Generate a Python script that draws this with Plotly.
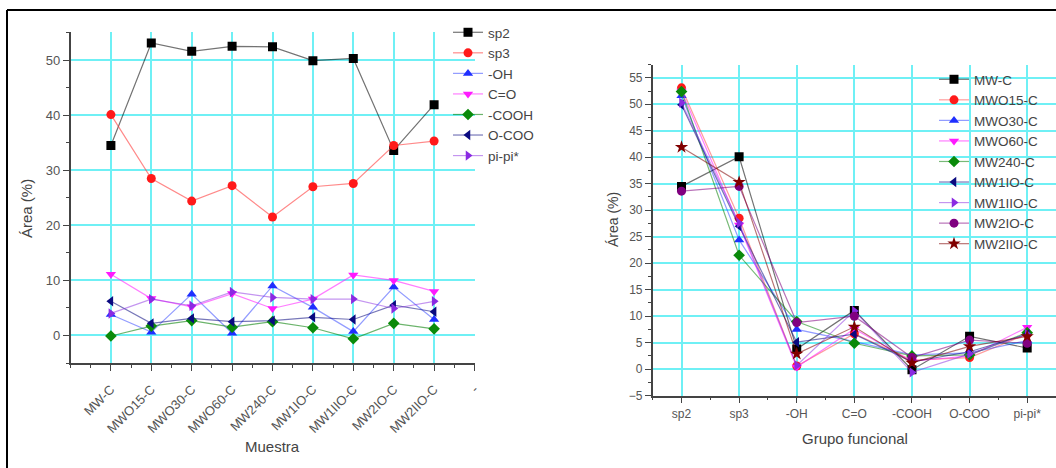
import plotly.graph_objects as go

W, H = 1056, 468

# ---------------- data ----------------
samples = ["MW-C", "MWO15-C", "MWO30-C", "MWO60-C", "MW240-C",
           "MW1IO-C", "MW1IIO-C", "MW2IO-C", "MW2IIO-C"]
groups = ["sp2", "sp3", "-OH", "C=O", "-COOH", "O-COO", "pi-pi*"]
left_tick_labels = samples + ["-"]

sp2 = [34.5, 53.1, 51.6, 52.5, 52.4, 49.9, 50.3, 33.6, 41.9]
sp3 = [40.1, 28.5, 24.4, 27.2, 21.5, 27.0, 27.6, 34.5, 35.3]
oh = [3.8, 0.6, 7.5, 0.4, 9.0, 5.1, 0.7, 8.8, 2.9]
co = [11.1, 6.7, 5.2, 7.6, 4.9, 6.6, 11.0, 10.0, 8.0]
cooh = [-0.1, 1.7, 2.7, 1.5, 2.5, 1.4, -0.6, 2.2, 1.2]
ocoo = [6.2, 2.2, 3.1, 2.5, 2.7, 3.3, 2.9, 5.5, 4.3]
pipi = [4.0, 6.6, 5.4, 7.9, 6.9, 6.6, 6.6, 4.9, 6.2]

group_values = [sp2, sp3, oh, co, cooh, ocoo, pipi]

# ---------------- styles ----------------
left_styles = [
    ("black", "rgba(0,0,0,0.55)", "square"),
    ("#ff1a1a", "rgba(255,60,60,0.6)", "circle"),
    ("#1f2fff", "rgba(40,60,255,0.5)", "triangle-up"),
    ("#ff1aff", "rgba(255,40,255,0.6)", "triangle-down"),
    ("#0a8a0a", "rgba(10,130,10,0.6)", "diamond"),
    ("#0a0a80", "rgba(10,10,128,0.55)", "triangle-left"),
    ("#8a2be2", "rgba(138,43,226,0.5)", "triangle-right"),
]
right_styles = [
    ("black", "rgba(0,0,0,0.55)", "square"),
    ("#ff1a1a", "rgba(255,60,60,0.5)", "circle"),
    ("#1f2fff", "rgba(40,60,255,0.5)", "triangle-up"),
    ("#ff1aff", "rgba(255,40,255,0.6)", "triangle-down"),
    ("#0a8a0a", "rgba(10,130,10,0.55)", "diamond"),
    ("#0a0a80", "rgba(10,10,128,0.55)", "triangle-left"),
    ("#8a2be2", "rgba(138,43,226,0.5)", "triangle-right"),
    ("#800080", "rgba(128,0,128,0.55)", "circle"),
    ("#800000", "rgba(128,0,0,0.55)", "star"),
]

fig = go.Figure()

x_left = list(range(1, len(samples) + 1))
for name, vals, (mc, lc, sym) in zip(groups, group_values, left_styles):
    fig.add_trace(go.Scatter(
        x=x_left, y=vals, name=name, mode="lines+markers",
        line=dict(color=lc, width=1.2),
        marker=dict(color=mc, symbol=sym, size=9),
        xaxis="x", yaxis="y", legend="legend",
    ))

x_right = list(range(len(groups)))
for i, (name, (mc, lc, sym)) in enumerate(zip(samples, right_styles)):
    vals = [g[i] for g in group_values]
    fig.add_trace(go.Scatter(
        x=x_right, y=vals, name=name, mode="lines+markers",
        line=dict(color=lc, width=1.2),
        marker=dict(color=mc, symbol=sym, size=9 if sym != "star" else 10),
        xaxis="x2", yaxis="y2", legend="legend2",
    ))

GRID = "#6ff0f5"
AX = "#444444"
TICKC = "#555555"
FONT = "Liberation Sans, Arial, sans-serif"

def px_x(p):
    return p / W

def px_y(p):
    return 1 - p / H

common_axis = dict(
    showline=True, linecolor=AX, linewidth=1.5,
    ticks="outside", tickcolor=AX, tickwidth=1.2,
    showgrid=True, gridcolor=GRID, gridwidth=1.5,
    zeroline=False, automargin=False,
)

def label(text, x, y, size, angle=0):
    return dict(text=text, x=px_x(x), y=px_y(y), xref="paper", yref="paper",
                xanchor="center", yanchor="middle", showarrow=False,
                textangle=angle, font=dict(size=size, color="#444"))

fig.update_layout(
    width=W, height=H,
    margin=dict(l=0, r=0, t=0, b=0),
    paper_bgcolor="white", plot_bgcolor="white",
    font=dict(family=FONT, color=TICKC),
    xaxis=dict(
        domain=[px_x(70.5), px_x(474.5)], range=[0, 10],
        tickmode="array", tickvals=list(range(1, 11)), ticktext=left_tick_labels,
        tickangle=-45, ticklen=6, ticklabelstandoff=6,
        tickfont=dict(size=13, color=TICKC),
        minor=dict(tickmode="linear", tick0=0, dtick=0.5, ticklen=3,
                   ticks="outside", tickcolor=AX, showgrid=False),
        anchor="y", **common_axis,
    ),
    yaxis=dict(
        domain=[px_y(363), px_y(32)], range=[-5, 55.1],
        tickmode="linear", tick0=0, dtick=10, ticklen=6,
        tickfont=dict(size=13, color=TICKC),
        minor=dict(tickmode="linear", tick0=0, dtick=5, ticklen=3,
                   ticks="outside", tickcolor=AX, showgrid=False),
        anchor="x", **common_axis,
    ),
    xaxis2=dict(
        domain=[px_x(652.7), 1.0], range=[-0.5, 6.5],
        tickmode="array", tickvals=x_right, ticktext=groups,
        tickangle=0, ticklen=6, tickfont=dict(size=12, color=TICKC),
        minor=dict(tickmode="linear", tick0=0, dtick=0.5, ticklen=3,
                   ticks="outside", tickcolor=AX, showgrid=False),
        anchor="y2", **common_axis,
    ),
    yaxis2=dict(
        domain=[px_y(395.7), px_y(64.5)], range=[-5, 57.5],
        tickmode="linear", tick0=0, dtick=5, ticklen=6,
        tickfont=dict(size=12, color=TICKC),
        minor=dict(tickmode="linear", tick0=0, dtick=2.5, ticklen=3,
                   ticks="outside", tickcolor=AX, showgrid=False),
        anchor="x2", **common_axis,
    ),
    legend=dict(
        x=px_x(448), y=px_y(17), xanchor="left", yanchor="top",
        bgcolor="rgba(0,0,0,0)", font=dict(size=13.5, color="#444"),
        tracegroupgap=0, itemwidth=30,
    ),
    legend2=dict(
        x=px_x(934), y=px_y(64), xanchor="left", yanchor="top",
        bgcolor="rgba(0,0,0,0)", font=dict(size=13.5, color="#444"),
        tracegroupgap=0, itemwidth=30,
    ),
    showlegend=True,
    annotations=[
        label("Área (%)", 27, 209, 15, -90),
        label("Muestra", 272, 446, 15),
        label("Área (%)", 613, 220, 14, -90),
        label("Grupo funcional", 855, 438, 15),
    ],
    shapes=[
        dict(type="line", xref="paper", yref="paper", x0=px_x(7), x1=1.0,
             y0=px_y(10), y1=px_y(10), line=dict(color="black", width=2)),
        dict(type="line", xref="paper", yref="paper", x0=px_x(7), x1=px_x(7),
             y0=px_y(10), y1=0, line=dict(color="black", width=2)),
    ],
)

fig.write_html("out.html", config={"displayModeBar": False},
               post_script="document.body.style.margin='0';")
